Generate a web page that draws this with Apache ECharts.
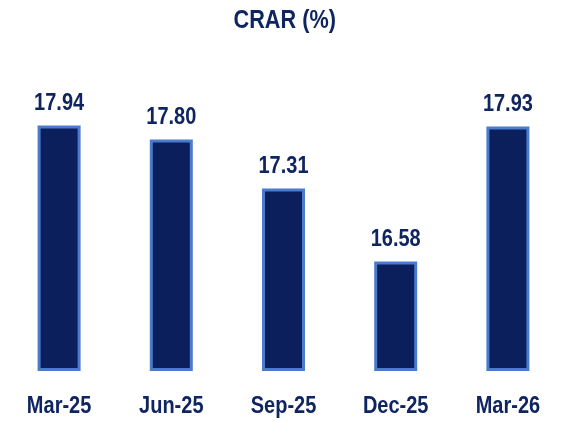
<!DOCTYPE html>
<html><head><meta charset="utf-8">
<script src="https://cdn.jsdelivr.net/npm/echarts@6/dist/echarts.min.js"></script>
<style>html,body{margin:0;padding:0;background:#fff}#c{width:564px;height:422px}</style>
</head><body><div id="c"></div>
<script>
const categories = ["Mar-25", "Jun-25", "Sep-25", "Dec-25", "Mar-26"];
const crarValues = [17.94, 17.80, 17.31, 16.58, 17.93];
const titleText = "CRAR (%)";

const FONT = "'Liberation Sans', Arial, sans-serif";
const NAVY_TEXT = "#0e2560";
const AXIS_MIN = 15.5;
const NARROW = 0.81;

const chart = echarts.init(document.getElementById('c'), null, {renderer: 'canvas'});
chart.setOption({
  animation: false,
  backgroundColor: '#ffffff',
  graphic: [{
    type: 'text', x: 284.7, y: 20.6, scaleX: 0.85,
    style: {text: titleText, font: 'bold 25.5px ' + FONT, fill: NAVY_TEXT, align: 'center', verticalAlign: 'middle'}
  }],
  grid: {left: 3, right: -2, top: 69.5, bottom: 52.5, containLabel: false},
  xAxis: {
    type: 'category', data: categories,
    axisLine: {show: false}, axisTick: {show: false}, axisLabel: {show: false}
  },
  yAxis: {
    type: 'value', min: AXIS_MIN, max: 18.5, show: false,
    splitLine: {show: false}
  },
  series: [{
    type: 'bar', data: crarValues, barWidth: 43,
    itemStyle: {color: '#0a1f5c', borderColor: '#4b7bcd', borderWidth: 3}
  }, {
    type: 'custom', clip: false, silent: true,
    data: crarValues.map((v, i) => [i, v]),
    renderItem: function (params, api) {
      const i = api.value(0), v = api.value(1);
      const top = api.coord([i, v]);
      const base = api.coord([i, AXIS_MIN]);
      return {
        type: 'group',
        children: [{
          type: 'text', x: top[0], y: top[1] - 22, scaleX: NARROW,
          style: {text: v.toFixed(2), font: 'bold 24.7px ' + FONT, fill: NAVY_TEXT, align: 'center', verticalAlign: 'middle'}
        }, {
          type: 'text', x: base[0], y: base[1] + 36.5, scaleX: NARROW,
          style: {text: categories[i], font: 'bold 24.7px ' + FONT, fill: NAVY_TEXT, align: 'center', verticalAlign: 'middle'}
        }]
      };
    }
  }]
});
</script></body></html>
